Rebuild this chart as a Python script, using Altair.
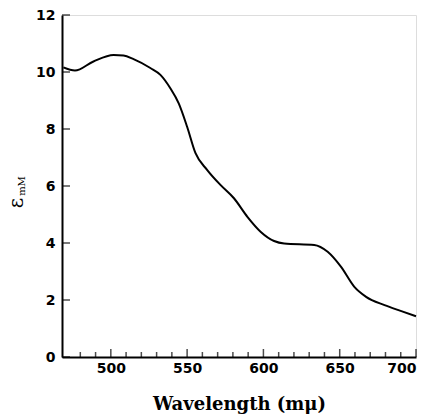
import altair as alt
import pandas as pd

# Curve
wavelength = [468.9, 476.5, 488.6, 501.8, 508.3, 514.9, 525.9, 532.5, 539.0, 544.5,
              550.0, 555.5, 563.2, 572.0, 580.7, 589.5, 598.3, 607.0, 613.6, 633.3,
              642.1, 650.9, 659.6, 667.3, 679.4, 690.4, 700.0]
epsilon = [10.16, 10.05, 10.37, 10.6, 10.58, 10.45, 10.14, 9.9, 9.43, 8.9,
           8.08, 7.15, 6.56, 6.03, 5.57, 4.92, 4.39, 4.07, 3.98, 3.93,
           3.69, 3.16, 2.46, 2.11, 1.82, 1.61, 1.43]

x_major = [500, 550, 600, 650, 700]
x_minor = [480, 490, 510, 520, 530, 540, 560, 570, 580, 590,
           610, 620, 630, 640, 660, 670, 680, 690]
y_major = [0, 2, 4, 6, 8, 10, 12]

W, H = 354, 342
xs = alt.Scale(domain=[468, 700], nice=False, zero=False)
ys = alt.Scale(domain=[0, 12], nice=False)

df = pd.DataFrame({"w": wavelength, "e": epsilon})

line = alt.Chart(df).mark_line(color="black", strokeWidth=2, interpolate="monotone").encode(
    x=alt.X("w:Q", scale=xs,
            axis=alt.Axis(values=x_major, ticks=False, grid=False, domainColor="black",
                          domainWidth=2, labelFont="DejaVu Sans", labelFontWeight="bold",
                          labelFontSize=14, labelColor="black", labelPadding=4,
                          title="Wavelength (mμ)", titleFont="DejaVu Serif",
                          titleFontWeight="bold", titleFontSize=18, titleColor="black",
                          titlePadding=20)),
    y=alt.Y("e:Q", scale=ys,
            axis=alt.Axis(values=y_major, ticks=False, grid=False, domainColor="black",
                          domainWidth=2, labelFont="DejaVu Sans", labelFontWeight="bold",
                          labelFontSize=14, labelColor="black", labelPadding=7,
                          title=None)),
)

xmaj = alt.Chart(pd.DataFrame({"t": x_major})).mark_tick(
    orient="vertical", size=8, thickness=1.5, color="black", yOffset=-4
).encode(x=alt.X("t:Q", scale=xs), y=alt.Y("z:Q", scale=ys)).transform_calculate(z="0")

xmin = alt.Chart(pd.DataFrame({"t": x_minor})).mark_tick(
    orient="vertical", size=5, thickness=1.5, color="black", yOffset=-2.5
).encode(x=alt.X("t:Q", scale=xs), y=alt.Y("z:Q", scale=ys)).transform_calculate(z="0")

ytk = alt.Chart(pd.DataFrame({"t": y_major})).mark_tick(
    orient="horizontal", size=8, thickness=1.5, color="black", xOffset=4
).encode(y=alt.Y("t:Q", scale=ys), x=alt.X("z:Q", scale=xs)).transform_calculate(z="468")

eps = alt.Chart(pd.DataFrame({"s": ["ε"]})).mark_text(
    angle=270, fontSize=20, font="DejaVu Serif", color="black"
).encode(text="s:N", x=alt.value(-45), y=alt.value(188))

sub = alt.Chart(pd.DataFrame({"s": ["mM"]})).mark_text(
    angle=270, fontSize=10, font="DejaVu Serif", color="black"
).encode(text="s:N", x=alt.value(-40), y=alt.value(171))

chart = alt.layer(line, xmin, xmaj, ytk, eps, sub).properties(
    width=W, height=H,
    autosize=alt.AutoSizeParams(type="none"),
    padding={"left": 62, "top": 15, "right": 14, "bottom": 59},
).configure_view(stroke=None).configure(background="white")

chart.save("out.html", embed_options={"renderer": "svg", "actions": False})
